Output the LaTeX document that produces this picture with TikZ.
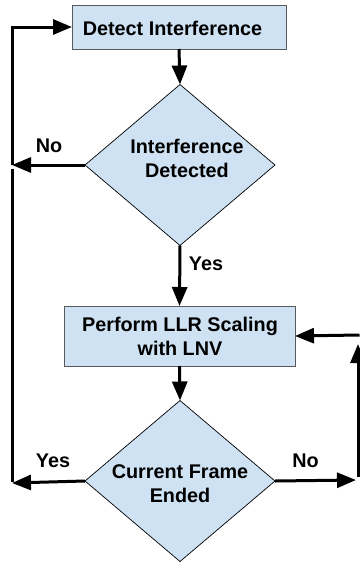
\documentclass[tikz,border=0pt]{standalone}
\usepackage{fontspec}
\setmainfont{Liberation Sans}
\usetikzlibrary{arrows.meta,shapes.geometric}
\definecolor{boxfill}{HTML}{CFE2F3}
\definecolor{boxline}{HTML}{595959}
\tikzset{
  procbox/.style={draw=boxline,line width=1pt,fill=boxfill,inner sep=0pt,outer sep=0pt},
  decbox/.style={diamond,draw=black,line width=0.7pt,fill=boxfill,inner sep=0pt,outer sep=0pt,aspect=1.18},
  lbl/.style={font=\bfseries\fontsize{19.8}{23.5}\selectfont,align=center,inner sep=0pt},
  flow/.style={line width=3pt,-{Triangle[length=19pt,width=15pt]}},
  plain/.style={line width=3pt},
}
\begin{document}
\begin{tikzpicture}[x=1pt,y=-1pt]
\useasboundingbox (0,0) rectangle (359,562);
% nodes
\node[procbox,minimum width=214pt,minimum height=44pt] (b1) at (179,27) {};
\node[lbl,anchor=base] (t0) at (172.5,35) {Detect Interference};
\node[decbox,minimum width=190pt,minimum height=161pt] (d1) at (180,165) {};
\node[lbl,anchor=base] (t1) at (187,177) {Interference\\Detected};
\node[procbox,minimum width=231pt,minimum height=60pt] (b2) at (179.5,336) {};
\node[lbl,anchor=base] (t2) at (180,355) {Perform LLR Scaling\\with LNV};
\node[decbox,minimum width=190pt,minimum height=161pt] (d2) at (180,481) {};
\node[lbl,anchor=base] (t3) at (180,502) {Current Frame\\Ended};
% labels
\node[lbl,anchor=base] (ly1) at (206,270) {Yes};
\node[lbl,anchor=base] (ln1) at (49,152) {No};
\node[lbl,anchor=base] (ly2) at (53,467) {Yes};
\node[lbl,anchor=base] (ln2) at (305.5,467) {No};
% free ends
\coordinate (cL1) at (12,165);
\coordinate (cL2) at (12,169);
\coordinate (cL3) at (12,483);
\coordinate (cR1) at (356,480);
\coordinate (cR2) at (358,477);
\coordinate (cR3) at (358,344);
\coordinate (cR4) at (359.5,335);
% connectors
\draw[flow] (b1.south) -- (d1.north);
\draw[flow] (d1.west) -- (cL1);
\draw[flow] (cL1) |- (b1.west);
\draw[flow] (d1.south) -- (b2.north);
\draw[flow] (b2.south) -- (d2.north);
\draw[flow] (d2.west) -- (cL3);
\draw[plain] (cL2) -- ([yshift=1.5pt]cL3);
\draw[flow] (d2.east) -- (cR1);
\draw[flow] (cR2) -- (cR3);
\draw[flow] (cR4) -- (b2.east);
\end{tikzpicture}
\end{document}
